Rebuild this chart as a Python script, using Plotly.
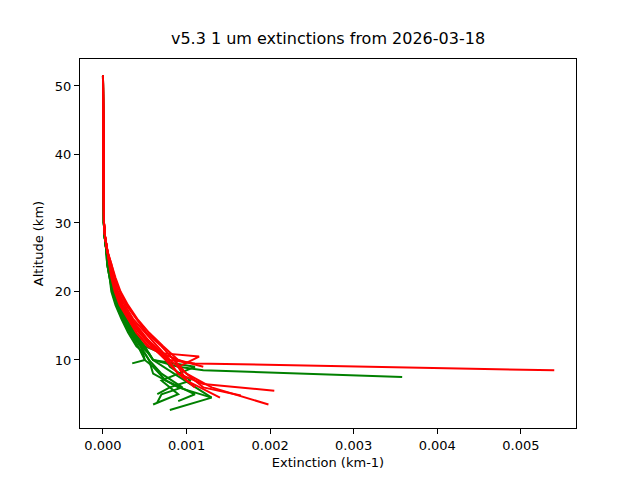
import plotly.graph_objects as go

# upper part of the profiles (km) - nearly zero extinction for all
upper_alt = [51.5, 48, 45, 42, 40, 37, 35, 32, 30, 28, 26]
upper_ext_green = [0.0, 0.000001, 0.000002, 0.000001, 0.000002, 0.000003, 0.000004, 0.000006, 0.00001, 0.00002, 0.00004]
upper_ext_red = [0.0, 0.000002, 0.000003, 0.000002, 0.000003, 0.000004, 0.000005, 0.000008, 0.000012, 0.000025, 0.00005]

# lower part, one list per profile
green_alt = [
    [24, 22, 20, 18, 16, 14, 12, 11, 10, 9, 8.5, 7.5],
    [24, 22, 20, 18, 16, 14, 12, 11, 10, 8, 6, 4.5, 2.7],
    [24, 22, 20, 18, 16, 14, 12, 10, 9, 7, 5, 3.5],
    [24, 22, 20, 18, 16, 14, 12, 10, 8, 6, 4.5],
    [24, 22, 20, 18, 16, 14, 12, 10, 9, 7, 5, 4],
    [24, 22, 20, 18, 16, 14, 12, 10, 9.5],
    [24, 22, 20, 18, 16, 14, 12, 10, 8, 6, 5, 3.8],
    [24, 22, 20, 18, 16, 14, 12, 11, 9, 7, 6, 5],
]
green_ext = [
    [0.00006, 0.00009, 0.00012, 0.00017, 0.00024, 0.00033, 0.00045, 0.00055, 0.0006, 0.0009, 0.0012, 0.00358],
    [0.00005, 0.00008, 0.0001, 0.00015, 0.00022, 0.0003, 0.0004, 0.0005, 0.00055, 0.0006, 0.0009, 0.0013, 0.0008],
    [0.00007, 0.0001, 0.00014, 0.0002, 0.00028, 0.00038, 0.0005, 0.0006, 0.0011, 0.0007, 0.0009, 0.0006],
    [0.00006, 0.00009, 0.00013, 0.00019, 0.00026, 0.00036, 0.00048, 0.0006, 0.00085, 0.0011, 0.0013],
    [0.00005, 0.00008, 0.00011, 0.00016, 0.00023, 0.00032, 0.00042, 0.0005, 0.0006, 0.00075, 0.0011, 0.0009],
    [0.00006, 0.00009, 0.00012, 0.00018, 0.00025, 0.00035, 0.00046, 0.0005, 0.00035],
    [0.00005, 0.00008, 0.00012, 0.00017, 0.00024, 0.00034, 0.00044, 0.00055, 0.0007, 0.00095, 0.0007, 0.00065],
    [0.00006, 0.0001, 0.00013, 0.00019, 0.00027, 0.00037, 0.0005, 0.0007, 0.0008, 0.00105, 0.0008, 0.00065],
]

red_alt = [
    [24, 22, 20, 18, 16, 14, 12, 10, 9.5, 8.5],
    [24, 22, 20, 18, 16, 14, 12, 10, 8, 6, 3.5],
    [24, 22, 20, 18, 16, 14, 12, 10, 8, 6.5, 5.5],
    [24, 22, 20, 18, 16, 14, 12, 10, 8, 6, 4.8],
    [24, 22, 20, 18, 16, 14, 12, 11, 10.5, 9, 7, 4.5],
    [24, 22, 20, 18, 16, 14, 12, 11, 10, 9],
    [24, 22, 20, 18, 16, 14, 12, 10, 8, 6],
    [24, 22, 20, 18, 16, 14, 12, 10, 9.5],
    [24, 22, 20, 18, 16, 14, 12, 11, 10],
]
red_ext = [
    [0.00008, 0.00012, 0.00016, 0.00023, 0.00033, 0.00045, 0.0006, 0.0008, 0.0011, 0.0054],
    [0.00009, 0.00013, 0.00018, 0.00026, 0.00036, 0.0005, 0.00065, 0.0008, 0.001, 0.0013, 0.00198],
    [0.00008, 0.00011, 0.00015, 0.00022, 0.00031, 0.00043, 0.00058, 0.00075, 0.0009, 0.0012, 0.00205],
    [0.0001, 0.00014, 0.0002, 0.00028, 0.0004, 0.00052, 0.0007, 0.00085, 0.001, 0.0012, 0.00165],
    [0.00007, 0.0001, 0.00014, 0.0002, 0.0003, 0.0004, 0.00055, 0.0007, 0.00115, 0.0009, 0.001, 0.0014],
    [0.00009, 0.00012, 0.00017, 0.00024, 0.00034, 0.00047, 0.0006, 0.0007, 0.0009, 0.0012],
    [0.00008, 0.00012, 0.00016, 0.00023, 0.00032, 0.00044, 0.00062, 0.00078, 0.0009, 0.0011],
    [0.0001, 0.00015, 0.00021, 0.0003, 0.00041, 0.00055, 0.00072, 0.0009, 0.001],
    [0.00008, 0.00011, 0.00015, 0.00021, 0.0003, 0.0004, 0.00053, 0.00068, 0.00078],
]

fig = go.Figure()
for alts, exts in zip(green_alt, green_ext):
    fig.add_trace(go.Scatter(x=upper_ext_green + exts, y=upper_alt + alts, mode='lines',
                             line=dict(color='green', width=2), showlegend=False))
for alts, exts in zip(red_alt, red_ext):
    fig.add_trace(go.Scatter(x=upper_ext_red + exts, y=upper_alt + alts, mode='lines',
                             line=dict(color='red', width=2), showlegend=False))

ax = dict(showgrid=False, zeroline=False, showline=True, linecolor='black', mirror=True,
          ticks='outside', ticklen=5, tickcolor='black', automargin=False,
          tickfont=dict(size=13))
# page body adds an 8px offset, so margins are shifted to compensate
fig.update_layout(
    width=640, height=480, plot_bgcolor='white', paper_bgcolor='white',
    font=dict(family='DejaVu Sans', size=13, color='black'),
    title=dict(text='v5.3 1 um extinctions from 2026-03-18', x=0.5, xanchor='center', xref='paper',
               y=0.925, yanchor='bottom', font=dict(size=16)),
    margin=dict(l=72, r=72, t=51, b=60),
    xaxis=dict(ax, range=[-0.000275, 0.00566], tickvals=[0, 0.001, 0.002, 0.003, 0.004, 0.005],
               tickformat='.3f', title=dict(text='Extinction (km-1)', standoff=6, font=dict(size=13))),
    yaxis=dict(ax, range=[0.07, 53.94], tickvals=[10, 20, 30, 40, 50],
               title=dict(text='Altitude (km)', standoff=8, font=dict(size=13))),
)
fig.write_html("out.html")
